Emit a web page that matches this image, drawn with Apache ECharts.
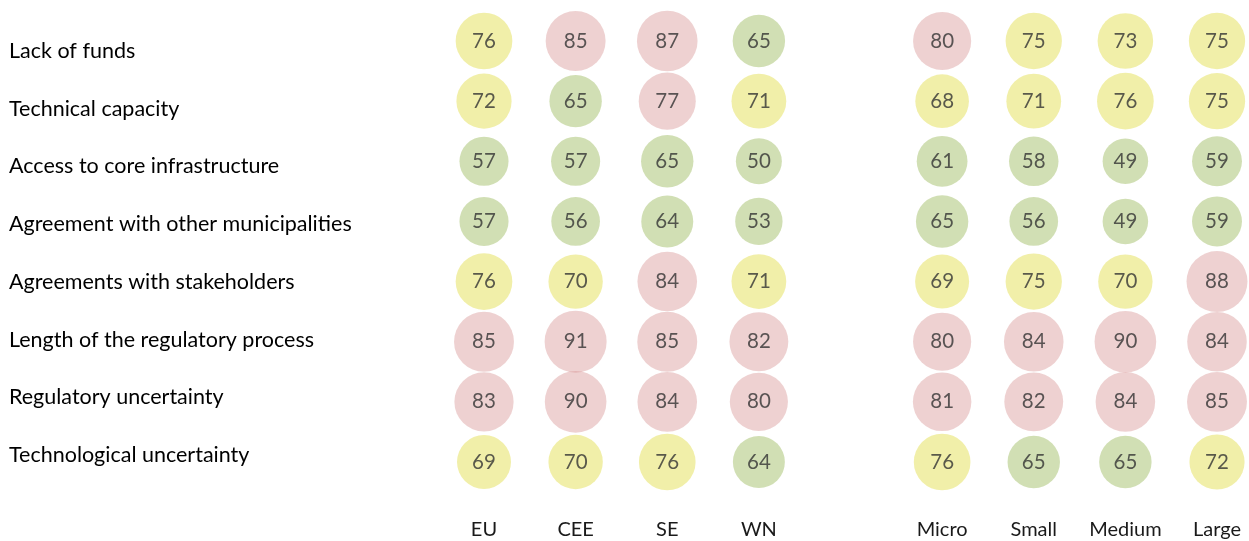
<!DOCTYPE html>
<html>
<head>
<meta charset="utf-8">
<script src="https://cdn.jsdelivr.net/npm/echarts@6/dist/echarts.min.js"></script>
<style>
  html, body { margin: 0; padding: 0; background: #fff; }
  #chart { width: 1249px; height: 541px; }
</style>
</head>
<body>
<div id="chart"></div>
<script>
// rows (barriers) and columns (regions / company size)
var barriers = [
  'Lack of funds',
  'Technical capacity',
  'Access to core infrastructure',
  'Agreement with other municipalities',
  'Agreements with stakeholders',
  'Length of the regulatory process',
  'Regulatory uncertainty',
  'Technological uncertainty'
];
var columns = ['EU', 'CEE', 'SE', 'WN', '', 'Micro', 'Small', 'Medium', 'Large'];

var EU     = [76, 72, 57, 57, 76, 85, 83, 69];
var CEE    = [85, 65, 57, 56, 70, 91, 90, 70];
var SE     = [87, 77, 65, 64, 84, 85, 84, 76];
var WN     = [65, 71, 50, 53, 71, 82, 80, 64];
var Micro  = [80, 68, 61, 65, 69, 80, 81, 76];
var Small  = [75, 71, 58, 56, 75, 84, 82, 65];
var Medium = [73, 76, 49, 49, 70, 90, 84, 65];
var Large  = [75, 75, 59, 59, 88, 84, 85, 72];

var colValues = { 'EU': EU, 'CEE': CEE, 'SE': SE, 'WN': WN,
                  'Micro': Micro, 'Small': Small, 'Medium': Medium, 'Large': Large };

var font = 'Lato';
var txt = '#333333';

function bubbleColor(v) {
  if (v <= 65) return 'rgba(139,175,67,0.5)';
  if (v <= 76) return 'rgba(221,215,39,0.5)';
  return 'rgba(213,139,139,0.5)';
}

var points = [];
columns.forEach(function (c, ci) {
  var vals = colValues[c];
  if (!vals) return;
  vals.forEach(function (v, ri) {
    points.push({ value: [ci, ri, v], itemStyle: { color: bubbleColor(v) } });
  });
});

var chart = echarts.init(document.getElementById('chart'));
chart.setOption({
  animation: false,
  grid: [
    { left: 484, right: 32, top: 41, bottom: 79 },
    { left: 400, right: 849, top: 51, bottom: 86 }
  ],
  xAxis: [
    {
      type: 'category', gridIndex: 0, data: columns, boundaryGap: false,
      axisLine: { show: false }, axisTick: { show: false }, splitLine: { show: false },
      axisLabel: { margin: 58, color: '#1a1a1a', fontFamily: font, fontSize: 20, interval: 0 }
    },
    { type: 'category', gridIndex: 1, show: false, data: [''] }
  ],
  yAxis: [
    {
      type: 'category', gridIndex: 0, data: barriers, boundaryGap: false, inverse: true,
      show: false
    },
    {
      type: 'category', gridIndex: 1, data: barriers, boundaryGap: false, inverse: true,
      axisLine: { show: false }, axisTick: { show: false }, splitLine: { show: false },
      axisLabel: { align: 'left', margin: 391, color: '#000', fontFamily: font, fontSize: 21.5 }
    }
  ],
  series: [{
    type: 'scatter',
    xAxisIndex: 0, yAxisIndex: 0,
    data: points,
    symbolSize: function (d) { return 6.5 * Math.sqrt(d[2]); },
    label: {
      show: true, position: 'inside', color: txt, fontFamily: font, fontSize: 20.5,
      formatter: function (p) { return p.value[2]; }
    },
    emphasis: { disabled: true }
  }]
});
</script>
</body>
</html>
